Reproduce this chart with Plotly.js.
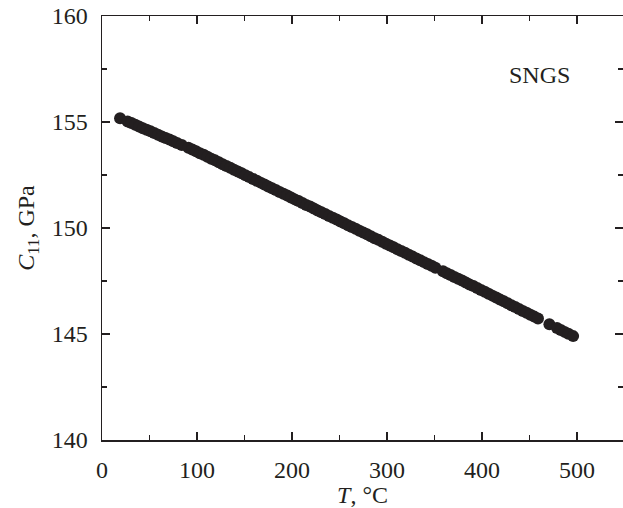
<!DOCTYPE html>
<html>
<head>
<meta charset="utf-8">
<script src="https://cdn.plot.ly/plotly-3.0.1.min.js"></script>
<style>html,body{margin:0;padding:0;background:#fff;}#chart{width:623px;height:508px;}</style>
</head>
<body>
<div id="chart"></div>
<script>
const temperatureC = [19, 27, 31, 35, 39, 43, 47, 51, 55, 59, 63, 67, 71, 75, 79, 84, 91, 95, 99,
  103, 107, 111, 115, 119, 123, 127, 131, 135, 139, 143, 147, 151, 155, 159, 163, 167, 171, 175, 179,
  183, 187, 191, 195, 199, 203, 207, 211, 215, 219, 223, 227, 231, 235, 239, 243, 247, 251, 255, 259,
  263, 267, 271, 275, 279, 283, 287, 291, 295, 299, 303, 307, 311, 315, 319, 323, 327, 331, 335, 339,
  343, 347, 351, 359, 363, 367, 371, 375, 379, 383, 387, 391, 395, 399, 403, 407, 411, 415, 419, 423,
  427, 431, 435, 439, 443, 447, 451, 455, 459, 471, 479, 483, 487, 491, 496];
const c11GPa = [155.18, 155.02, 154.95, 154.87, 154.79, 154.71, 154.63, 154.56, 154.48, 154.40, 154.32, 154.24, 154.17, 154.09, 154.01, 153.91, 153.78, 153.70, 153.62,
  153.53, 153.45, 153.36, 153.27, 153.19, 153.10, 153.01, 152.92, 152.84, 152.75, 152.66, 152.58, 152.49, 152.40, 152.31, 152.23, 152.14, 152.05, 151.96, 151.88,
  151.79, 151.70, 151.62, 151.53, 151.44, 151.35, 151.27, 151.18, 151.09, 151.01, 150.92, 150.83, 150.74, 150.66, 150.57, 150.48, 150.40, 150.31, 150.22, 150.13,
  150.05, 149.96, 149.87, 149.79, 149.70, 149.61, 149.52, 149.44, 149.35, 149.26, 149.17, 149.09, 149.00, 148.91, 148.83, 148.74, 148.65, 148.56, 148.48, 148.39,
  148.30, 148.22, 148.13, 147.96, 147.87, 147.78, 147.69, 147.61, 147.52, 147.43, 147.34, 147.26, 147.17, 147.08, 146.99, 146.90, 146.81, 146.72, 146.63, 146.54,
  146.45, 146.36, 146.27, 146.18, 146.09, 146.00, 145.91, 145.82, 145.73, 145.46, 145.28, 145.19, 145.10, 145.01, 144.90];
const xTickVals = [0, 100, 200, 300, 400, 500];
const yTickVals = [140, 145, 150, 155, 160];
const sampleLabel = 'SNGS';

const ink = '#231f20';
const font = {family: 'Liberation Serif, Times New Roman, Times, serif', size: 24, color: ink};

const trace = {
  x: temperatureC, y: c11GPa, type: 'scatter', mode: 'markers',
  marker: {size: 12, color: ink, line: {width: 0}},
  hoverinfo: 'x+y', showlegend: false
};

const axisCommon = {
  showgrid: false, zeroline: false, showline: true, linecolor: ink, linewidth: 1.5,
  mirror: 'ticks', ticks: 'inside', ticklen: 8, tickwidth: 1.2, tickcolor: ink,
  tickfont: font, ticklabelstandoff: 8
};

const layout = {
  width: 623, height: 508,
  margin: {l: 102, r: 0, t: 16, b: 68},
  paper_bgcolor: '#fff', plot_bgcolor: '#fff',
  font: font,
  xaxis: Object.assign({}, axisCommon, {
    range: [0, 548.5], tickvals: xTickVals,
    minor: {dtick: 50, tick0: 0, ticks: 'inside', ticklen: 5, tickwidth: 1.2, tickcolor: ink},
    title: {text: '<i>T</i>, °C', font: font, standoff: 6}
  }),
  yaxis: Object.assign({}, axisCommon, {
    range: [140, 160], tickvals: yTickVals,
    minor: {dtick: 2.5, tick0: 140, ticks: 'inside', ticklen: 5, tickwidth: 1.2, tickcolor: ink},
    title: {text: '<i>C</i><sub>11</sub>, GPa', font: font, standoff: 10}
  }),
  annotations: [{
    x: 461, y: 157.2, xref: 'x', yref: 'y', text: sampleLabel, showarrow: false,
    font: font, xanchor: 'center', yanchor: 'middle'
  }]
};

Plotly.newPlot('chart', [trace], layout, {displayModeBar: false, staticPlot: true});
</script>
</body>
</html>
